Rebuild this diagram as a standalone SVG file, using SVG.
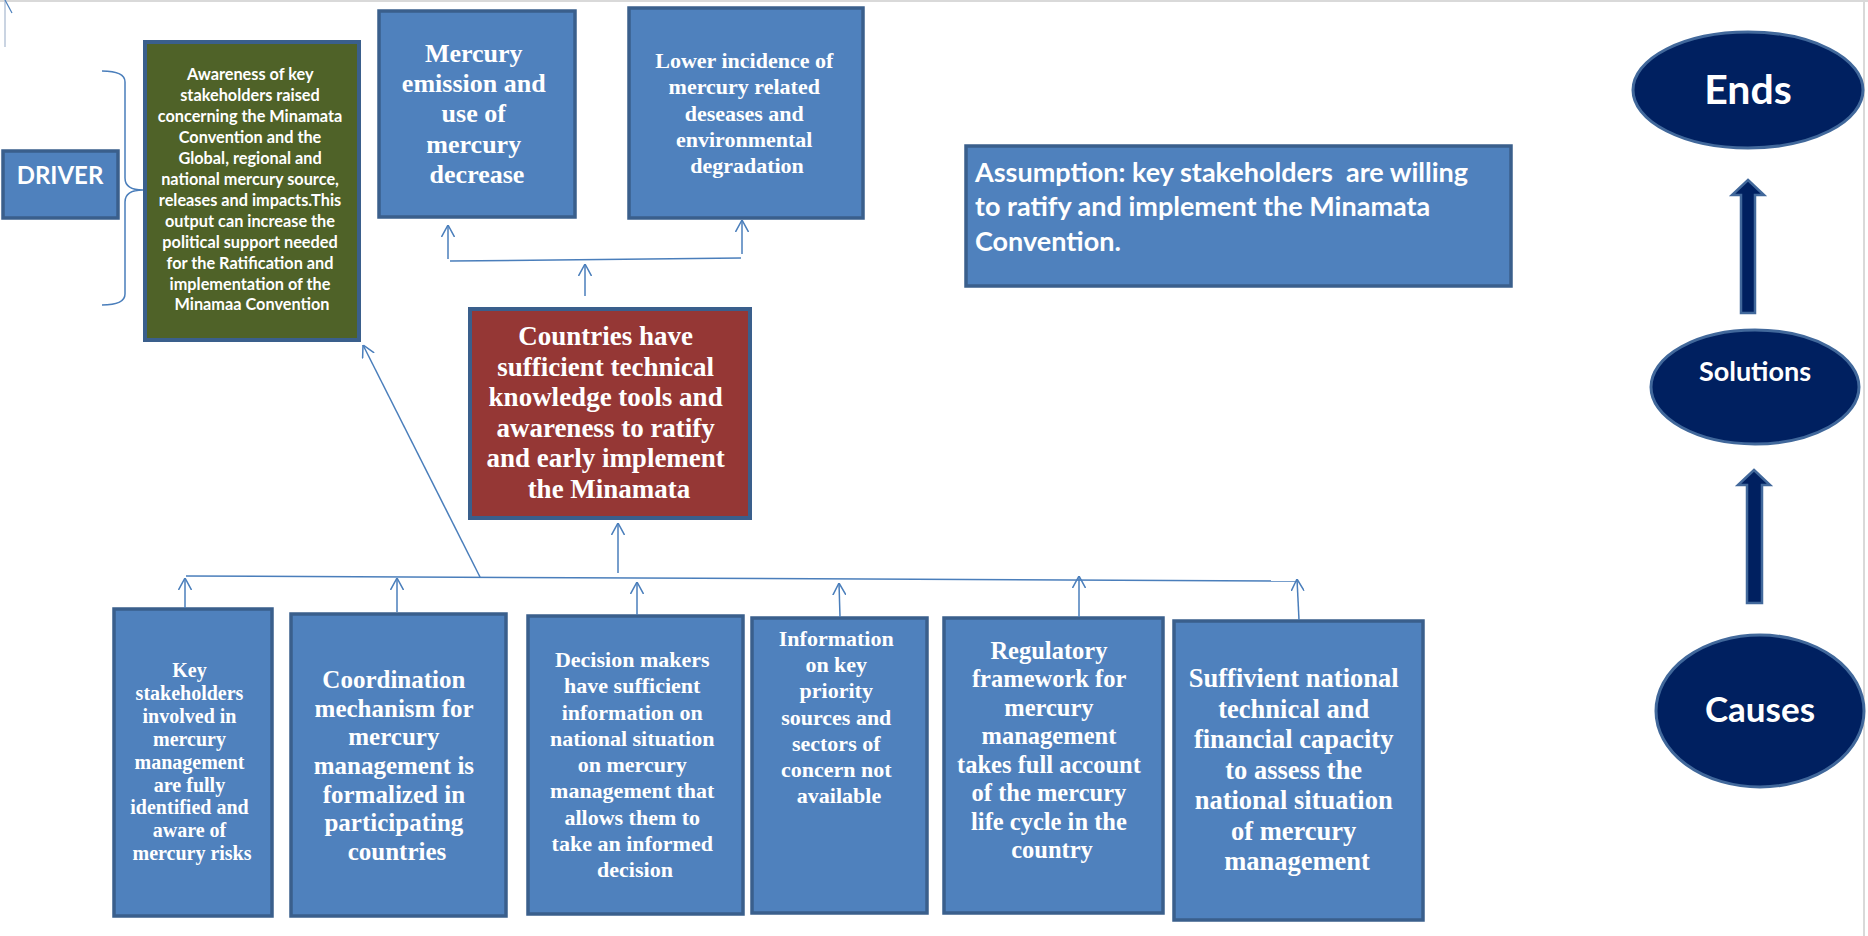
<svg xmlns="http://www.w3.org/2000/svg" width="1868" height="936" viewBox="0 0 1868 936">
<defs>
<marker id="ah" viewBox="0 0 12 14" refX="12" refY="7" markerWidth="12" markerHeight="14" markerUnits="userSpaceOnUse" orient="auto">
<path d="M0,0.5 L12,7 L0,13.5" fill="none" stroke="#4a7ebb" stroke-width="1.5"/>
</marker>
</defs>
<style>
.blue{fill:#4f81bd;stroke:#3a5f8c;stroke-width:3.5}
.red{fill:#953735;stroke:#3a5f8c;stroke-width:4}
.green{fill:#4f6228;stroke:#3a5f8c;stroke-width:4}
.oval{fill:#002060;stroke:#41689b;stroke-width:3}
.blk{fill:#002060;stroke:#41689b;stroke-width:2.5}
.serif{font-family:"Liberation Serif","Times New Roman",serif;font-weight:bold;fill:#fff;text-anchor:middle}
.sans{font-family:Lato,"Open Sans",sans-serif;font-weight:bold;fill:#fff}
.mid{text-anchor:middle}
.con{fill:none;stroke:#4a7ebb;stroke-width:1.5}
.conA{fill:none;stroke:#4a7ebb;stroke-width:1.5;marker-end:url(#ah)}
.edge{fill:none;stroke:#d9d9d9;stroke-width:2}
</style>
<rect width="1868" height="936" fill="#fff"/>
<line class="edge" x1="0" y1="1" x2="1868" y2="1"/>
<line class="edge" x1="1864" y1="0" x2="1864" y2="936"/>
<line x1="5" y1="0" x2="5" y2="47" stroke="#b8c6d9" stroke-width="1.5"/>
<line x1="5" y1="0" x2="12" y2="13" stroke="#4a7ebb" stroke-width="1.2"/>

<g id="driver">
<rect class="blue" x="3" y="151" width="115" height="67"/>
<text class="sans mid" x="60" y="184" font-size="24">DRIVER</text>
</g>

<g id="brace">
<path d="M102,71 Q125,71 125,82 L125,178 Q125,190 143,190 Q125,190 125,202 L125,294 Q125,305 102,305" fill="none" stroke="#4a7ebb" stroke-width="1.5"/>
</g>

<g id="output">
<rect class="green" x="145" y="42" width="214" height="298"/>
<text class="sans mid" x="252" font-size="16.3">
<tspan x="252" y="80">Awareness of key</tspan>
<tspan x="252" y="101">stakeholders raised</tspan>
<tspan x="252" y="122">concerning the Minamata</tspan>
<tspan x="252" y="143">Convention and the</tspan>
<tspan x="252" y="164">Global, regional and</tspan>
<tspan x="252" y="185">national mercury source,</tspan>
<tspan x="252" y="206">releases and impacts.This</tspan>
<tspan x="252" y="227">output can increase the</tspan>
<tspan x="252" y="248">political support needed</tspan>
<tspan x="252" y="269">for the Ratification and</tspan>
<tspan x="252" y="290">implementation of the</tspan>
<tspan x="252" y="310">Minamaa Convention</tspan>
</text>
</g>

<g id="mercury-decrease">
<rect class="blue" x="379" y="11" width="196" height="206"/>
<text class="serif" font-size="26">
<tspan x="477" y="62">Mercury</tspan>
<tspan x="477" y="92">emission and</tspan>
<tspan x="477" y="122">use of</tspan>
<tspan x="477" y="152.5">mercury</tspan>
<tspan x="477" y="183">decrease</tspan>
</text>
</g>

<g id="lower-incidence">
<rect class="blue" x="629" y="8" width="234" height="210"/>
<text class="serif" font-size="22">
<tspan x="747" y="68">Lower incidence of</tspan>
<tspan x="747" y="94">mercury related</tspan>
<tspan x="747" y="120.5">deseases and</tspan>
<tspan x="747" y="147">environmental</tspan>
<tspan x="747" y="173">degradation</tspan>
</text>
</g>

<g id="assumption">
<rect class="blue" x="966" y="146" width="545" height="140"/>
<text class="sans" font-size="27" xml:space="preserve"><tspan x="975" y="182">Assumption: key stakeholders  are willing</tspan><tspan x="975" y="216">to ratify and implement the Minamata</tspan><tspan x="975" y="251">Convention.</tspan></text>
</g>

<g id="countries">
<rect class="red" x="470" y="309" width="280" height="209"/>
<text class="serif" font-size="27">
<tspan x="609" y="345">Countries have</tspan>
<tspan x="609" y="375.6">sufficient technical</tspan>
<tspan x="609" y="406.2">knowledge tools and</tspan>
<tspan x="609" y="436.8">awareness to ratify</tspan>
<tspan x="609" y="467.4">and early implement</tspan>
<tspan x="609" y="498">the Minamata</tspan>
</text>
</g>

<g id="cause-1">
<rect class="blue" x="114" y="609" width="158" height="307"/>
<text class="serif" font-size="20">
<tspan x="192" y="677">Key</tspan>
<tspan x="192" y="700">stakeholders</tspan>
<tspan x="192" y="723">involved in</tspan>
<tspan x="192" y="745.5">mercury</tspan>
<tspan x="192" y="768.5">management</tspan>
<tspan x="192" y="791.5">are fully</tspan>
<tspan x="192" y="814">identified and</tspan>
<tspan x="192" y="837">aware of</tspan>
<tspan x="192" y="860">mercury risks</tspan>
</text>
</g>

<g id="cause-2">
<rect class="blue" x="291" y="614" width="215" height="302"/>
<text class="serif" font-size="25">
<tspan x="397" y="688">Coordination</tspan>
<tspan x="397" y="716.7">mechanism for</tspan>
<tspan x="397" y="745.3">mercury</tspan>
<tspan x="397" y="774">management is</tspan>
<tspan x="397" y="802.7">formalized in</tspan>
<tspan x="397" y="831.3">participating</tspan>
<tspan x="397" y="860">countries</tspan>
</text>
</g>

<g id="cause-3">
<rect class="blue" x="528" y="616" width="215" height="298"/>
<text class="serif" font-size="22">
<tspan x="635" y="667">Decision makers</tspan>
<tspan x="635" y="693.3">have sufficient</tspan>
<tspan x="635" y="719.5">information on</tspan>
<tspan x="635" y="745.8">national situation</tspan>
<tspan x="635" y="772">on mercury</tspan>
<tspan x="635" y="798.3">management that</tspan>
<tspan x="635" y="824.5">allows them to</tspan>
<tspan x="635" y="850.8">take an informed</tspan>
<tspan x="635" y="877">decision</tspan>
</text>
</g>

<g id="cause-4">
<rect class="blue" x="752" y="618" width="175" height="295"/>
<text class="serif" font-size="22">
<tspan x="839" y="646">Information</tspan>
<tspan x="839" y="672.2">on key</tspan>
<tspan x="839" y="698.3">priority</tspan>
<tspan x="839" y="724.5">sources and</tspan>
<tspan x="839" y="750.7">sectors of</tspan>
<tspan x="839" y="776.8">concern not</tspan>
<tspan x="839" y="803">available</tspan>
</text>
</g>

<g id="cause-5">
<rect class="blue" x="944" y="618" width="219" height="295"/>
<text class="serif" font-size="24.5">
<tspan x="1052" y="659">Regulatory</tspan>
<tspan x="1052" y="687.4">framework for</tspan>
<tspan x="1052" y="715.9">mercury</tspan>
<tspan x="1052" y="744.3">management</tspan>
<tspan x="1052" y="772.7">takes full account</tspan>
<tspan x="1052" y="801.1">of the mercury</tspan>
<tspan x="1052" y="829.6">life cycle in the</tspan>
<tspan x="1052" y="858">country</tspan>
</text>
</g>

<g id="cause-6">
<rect class="blue" x="1174" y="621" width="249" height="299"/>
<text class="serif" font-size="26.5">
<tspan x="1297" y="687">Suffivient national</tspan>
<tspan x="1297" y="717.5">technical and</tspan>
<tspan x="1297" y="748">financial capacity</tspan>
<tspan x="1297" y="778.5">to assess the</tspan>
<tspan x="1297" y="809">national situation</tspan>
<tspan x="1297" y="839.5">of mercury</tspan>
<tspan x="1297" y="870">management</tspan>
</text>
</g>

<g id="ends">
<ellipse class="oval" cx="1748" cy="90" rx="115" ry="58"/>
<text class="sans mid" x="1748" y="104" font-size="41">Ends</text>
</g>

<g id="solutions">
<ellipse class="oval" cx="1755" cy="387" rx="104" ry="57"/>
<text class="sans mid" x="1755" y="381" font-size="27">Solutions</text>
</g>

<g id="causes">
<ellipse class="oval" cx="1760" cy="711" rx="104" ry="76"/>
<text class="sans mid" x="1760" y="722" font-size="35">Causes</text>
</g>

<g id="connectors">
<polygon class="blk" points="1748,180 1764,195 1755,195 1755,313 1741,313 1741,195 1732,195"/>
<polygon class="blk" points="1754,470 1770,485 1762,485 1762,603 1747,603 1747,485 1738,485"/>
<line class="con" x1="450" y1="261" x2="741" y2="258"/>
<line class="conA" x1="448" y1="259" x2="448" y2="225"/>
<line class="conA" x1="742" y1="254" x2="742" y2="220"/>
<line class="conA" x1="585" y1="296" x2="585" y2="264"/>
<line class="con" x1="186" y1="576" x2="1297" y2="581"/>
<line class="conA" x1="618" y1="573" x2="618" y2="523"/>
<line class="conA" x1="480" y1="577" x2="363" y2="345"/>
<line class="conA" x1="185" y1="608" x2="185" y2="578"/>
<line class="conA" x1="397" y1="612" x2="397" y2="578"/>
<line class="conA" x1="637" y1="615" x2="637" y2="582"/>
<line class="conA" x1="840" y1="617" x2="839" y2="583"/>
<line class="conA" x1="1079" y1="617" x2="1079" y2="576"/>
<line class="conA" x1="1299" y1="620" x2="1297" y2="579"/>
</g>
</svg>
